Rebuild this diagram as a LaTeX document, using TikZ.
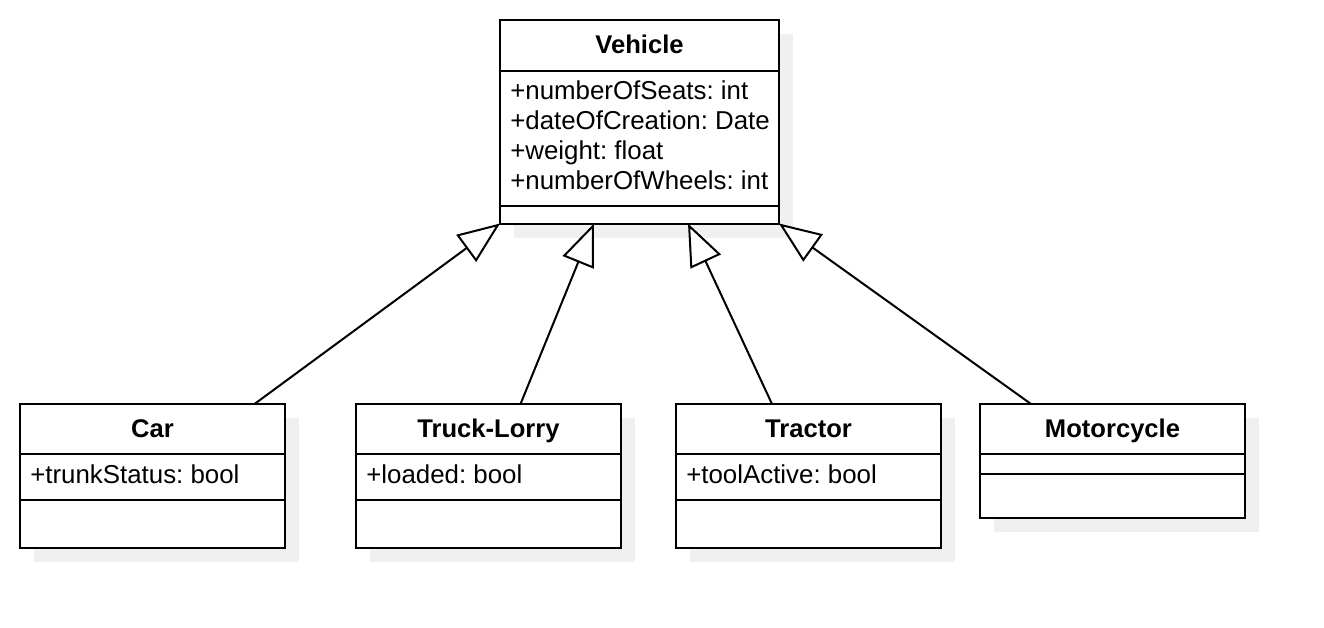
\documentclass[tikz,border=0pt]{standalone}
\usepackage{fontspec}
\setmainfont{Liberation Sans}
\usetikzlibrary{arrows.meta,shadows}
\frenchspacing
\def\px{0.75pt}
\tikzset{
  classbox/.style={draw=black, line width=1.5pt, fill=white, anchor=north west, inner sep=0pt, outer sep=0pt,
    minimum width=265*\px, minimum height=#1*\px,
    drop shadow={shadow xshift=14*\px, shadow yshift=-14*\px, fill=black!6, opacity=1, draw=none}},
  sepline/.style={draw=black, line width=1.5pt},
  ctitle/.style={font=\fontsize{19.2pt}{22pt}\selectfont\bfseries, anchor=base, inner sep=0pt},
  cattr/.style={font=\fontsize{19.4pt}{22pt}\selectfont, anchor=base west, inner sep=0pt},
  inherit/.style={draw=black, line width=1.5pt,
    -{Triangle[length=31.5pt, width=25pt, fill=white, line width=1.5pt]}}
}
\begin{document}
\begin{tikzpicture}[x=0.75pt, y=-0.75pt]
\useasboundingbox (0,0) rectangle (1324,628);
% Vehicle
\node[classbox=203.5, minimum width=279*\px] (veh) at (500,20) {};
\draw[sepline] (veh.west |- 0,70.5) -- (veh.east |- 0,70.5);
\draw[sepline] (veh.west |- 0,206) -- (veh.east |- 0,206);
\node[ctitle] (vehT) at (639.5,53) {Vehicle};
\node[cattr] (vehA1) at (510,99) {+numberOfSeats: int};
\node[cattr] (vehA2) at (510,129) {+dateOfCreation: Date};
\node[cattr] (vehA3) at (510,159) {+weight: float};
\node[cattr] (vehA4) at (510,189) {+numberOfWheels: int};
% Car
\node[classbox=144] (car) at (20,404) {};
\draw[sepline] (car.west |- 0,454) -- (car.east |- 0,454);
\draw[sepline] (car.west |- 0,500) -- (car.east |- 0,500);
\node[ctitle] (carT) at (152.5,437) {Car};
\node[cattr] (carA) at (30,483) {+trunkStatus: bool};
% Truck-Lorry
\node[classbox=144] (truck) at (356,404) {};
\draw[sepline] (truck.west |- 0,454) -- (truck.east |- 0,454);
\draw[sepline] (truck.west |- 0,500) -- (truck.east |- 0,500);
\node[ctitle] (truckT) at (488.5,437) {Truck-Lorry};
\node[cattr] (truckA) at (366,483) {+loaded: bool};
% Tractor
\node[classbox=144] (tractor) at (676,404) {};
\draw[sepline] (tractor.west |- 0,454) -- (tractor.east |- 0,454);
\draw[sepline] (tractor.west |- 0,500) -- (tractor.east |- 0,500);
\node[ctitle] (tractorT) at (808.5,437) {Tractor};
\node[cattr] (tractorA) at (686,483) {+toolActive: bool};
% Motorcycle
\node[classbox=114] (moto) at (980,404) {};
\draw[sepline] (moto.west |- 0,454) -- (moto.east |- 0,454);
\draw[sepline] (moto.west |- 0,474) -- (moto.east |- 0,474);
\node[ctitle] (motoT) at (1112.5,437) {Motorcycle};
% Generalisations
\draw[inherit] ([xshift=102*\px]car.north) -- (veh.south west);
\draw[inherit] ([xshift=32*\px]truck.north) -- ([xshift=94*\px]veh.south west);
\draw[inherit] ([xshift=-36.5*\px]tractor.north) -- ([xshift=188*\px]veh.south west);
\draw[inherit] ([xshift=-81.5*\px]moto.north) -- (veh.south east);
\end{tikzpicture}
\end{document}
